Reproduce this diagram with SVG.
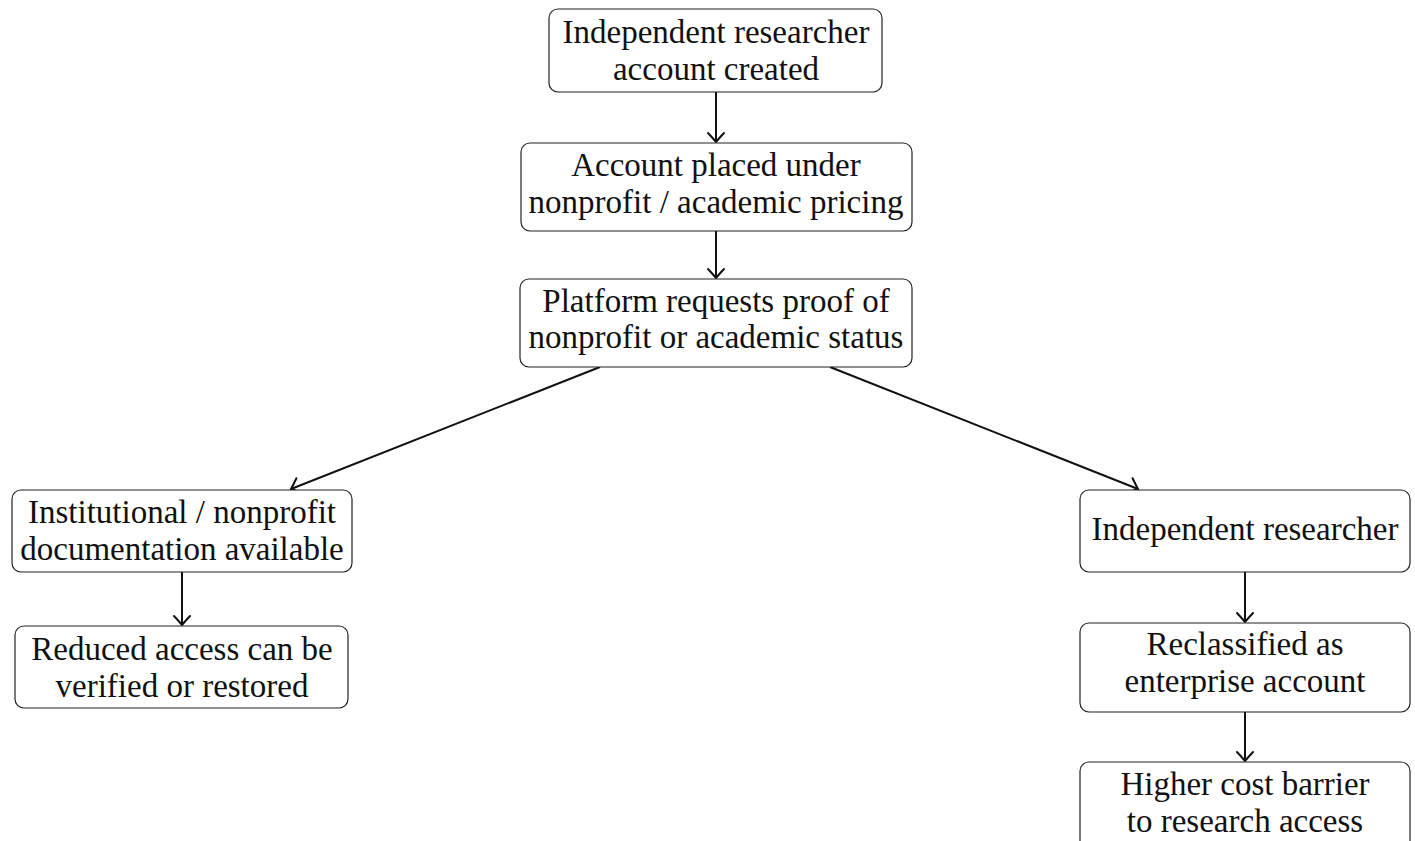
<svg xmlns="http://www.w3.org/2000/svg" width="1415" height="841" viewBox="0 0 1415 841">
<defs>
<style>
.box{fill:#fff;stroke:#222;stroke-width:1.2}
.t{font-family:"Liberation Serif","DejaVu Serif",serif;font-size:33px;fill:#111;text-anchor:middle}
.e{stroke:#111;stroke-width:2;fill:none}
</style>
<marker id="arr" markerUnits="userSpaceOnUse" viewBox="-12 -10 14 20" refX="0" refY="0" markerWidth="14" markerHeight="20" orient="auto" overflow="visible">
<path d="M-9,-8 Q-2.5,-2 0,0 Q-2.5,2 -9,8" fill="none" stroke="#111" stroke-width="2" stroke-linecap="round"/>
</marker>
</defs>
<rect width="1415" height="841" fill="#fff"/>
<g id="connectors">
<line class="e" x1="716" y1="92" x2="716" y2="142" marker-end="url(#arr)"/>
<line class="e" x1="716" y1="231" x2="716" y2="278" marker-end="url(#arr)"/>
<line class="e" x1="600" y1="367" x2="291" y2="489" marker-end="url(#arr)"/>
<line class="e" x1="830" y1="367" x2="1138" y2="489" marker-end="url(#arr)"/>
<line class="e" x1="182" y1="572" x2="182" y2="625" marker-end="url(#arr)"/>
<line class="e" x1="1245" y1="572" x2="1245" y2="622" marker-end="url(#arr)"/>
<line class="e" x1="1245" y1="712" x2="1245" y2="761" marker-end="url(#arr)"/>
</g>
<g id="n1">
<rect class="box" x="549" y="9" width="333" height="83" rx="9"/>
<text class="t" x="716" y="43">Independent researcher</text>
<text class="t" x="716" y="80">account created</text>
</g>
<g id="n2">
<rect class="box" x="521" y="143" width="391" height="88" rx="9"/>
<text class="t" x="716" y="176">Account placed under</text>
<text class="t" x="716" y="213">nonprofit / academic pricing</text>
</g>
<g id="n3">
<rect class="box" x="520" y="279" width="392" height="88" rx="9"/>
<text class="t" x="716" y="312">Platform requests proof of</text>
<text class="t" x="716" y="348">nonprofit or academic status</text>
</g>
<g id="n4">
<rect class="box" x="12" y="490" width="340" height="82" rx="9"/>
<text class="t" x="182" y="523">Institutional / nonprofit</text>
<text class="t" x="182" y="560">documentation available</text>
</g>
<g id="n5">
<rect class="box" x="15" y="626" width="333" height="82" rx="9"/>
<text class="t" x="182" y="660">Reduced access can be</text>
<text class="t" x="182" y="697">verified or restored</text>
</g>
<g id="n6">
<rect class="box" x="1080" y="490" width="330" height="82" rx="9"/>
<text class="t" x="1245" y="540">Independent researcher</text>
</g>
<g id="n7">
<rect class="box" x="1080" y="623" width="330" height="89" rx="9"/>
<text class="t" x="1245" y="655">Reclassified as</text>
<text class="t" x="1245" y="692">enterprise account</text>
</g>
<g id="n8">
<rect class="box" x="1080" y="762" width="330" height="89" rx="9"/>
<text class="t" x="1245" y="795">Higher cost barrier</text>
<text class="t" x="1245" y="832">to research access</text>
</g>
</svg>
